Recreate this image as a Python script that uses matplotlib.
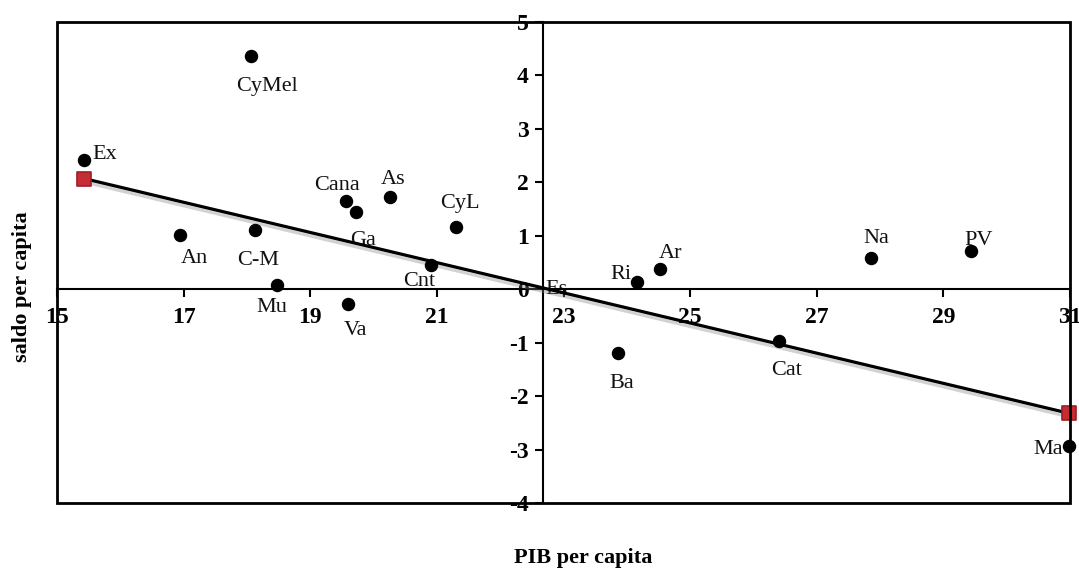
import matplotlib
matplotlib.use("Agg")
import matplotlib.pyplot as plt
import matplotlib.patheffects as pe
from matplotlib.patches import Rectangle

# ---- data ----
regions = ["CyMel", "Ex", "Cana", "Ga", "As", "CyL", "An", "C-M", "Cnt", "Mu", "Va",
           "Es", "Ri", "Ar", "Ba", "Cat", "Na", "PV", "Ma"]
pib = [18.06, 15.43, 19.56, 19.72, 20.26, 21.30, 16.95, 18.13, 20.90, 18.48, 19.60,
       22.67, 24.16, 24.53, 23.86, 26.41, 27.85, 29.43, 30.98]
saldo = [4.36, 2.42, 1.65, 1.44, 1.72, 1.16, 1.01, 1.10, 0.46, 0.07, -0.28,
         0.0, 0.14, 0.38, -1.20, -0.97, 0.58, 0.71, -2.94]
fit_x = [15.43, 30.98]
fit_y = [2.07, -2.32]
x_ticks = [15, 17, 19, 21, 23, 25, 27, 29, 31]
y_ticks = [-4, -3, -2, -1, 0, 1, 2, 3, 4, 5]
x_cross = 22.67  # value where vertical axis crosses
hidden_marker = ["Es"]  # point sitting on the axes crossing, marker not visible

# label offsets (points) and alignment
lab_pos = {
    "CyMel": (12, -22, "center", "center"),
    "Ex": (6, 4, "left", "center"),
    "Cana": (-6, 11, "center", "center"),
    "Ga": (5, -20, "center", "center"),
    "As": (2, 13, "center", "center"),
    "CyL": (3, 17, "center", "center"),
    "An": (10, -17, "center", "center"),
    "C-M": (2, -22, "center", "center"),
    "Cnt": (-8, -12, "center", "center"),
    "Mu": (-4, -16, "center", "center"),
    "Va": (5, -19, "center", "center"),
    "Es": (2, 0, "left", "center"),
    "Ri": (-4, 5, "right", "center"),
    "Ar": (7, 11, "center", "center"),
    "Ba": (3, -22, "center", "center"),
    "Cat": (5, -21, "center", "center"),
    "Na": (4, 14, "center", "center"),
    "PV": (6, 8, "center", "center"),
    "Ma": (-4, -2, "right", "center"),
}

plt.rcParams['font.family'] = ['Liberation Serif', 'DejaVu Serif']

fig = plt.figure(figsize=(10.79, 5.73), dpi=100)
ax = fig.add_axes([57/1079, 1 - 503/573, (1070-57)/1079, (503-22)/573])
ax.set_xlim(15, 31)
ax.set_ylim(-4, 5)

# spines as crossing axes
for s in ["top", "right"]:
    ax.spines[s].set_visible(False)
ax.spines["left"].set_position(("data", x_cross))
ax.spines["bottom"].set_position(("data", 0))
ax.spines["left"].set_linewidth(1.5)
ax.spines["bottom"].set_linewidth(1.5)
ax.add_patch(Rectangle((0, 0), 1, 1, transform=ax.transAxes, fill=False,
                       lw=2.0, ec="black", zorder=5, clip_on=False))

ax.set_xticks(x_ticks)
ax.set_xticklabels([str(v) for v in x_ticks])
ax.set_yticks(y_ticks)
ax.set_yticklabels([str(v) for v in y_ticks])
ax.tick_params(axis="both", direction="out", length=6, width=1.5,
               labelsize=17)
ax.tick_params(axis="x", pad=7)
ax.tick_params(axis="y", pad=4)
for lab in ax.get_xticklabels() + ax.get_yticklabels():
    lab.set_fontweight("bold")

# regression line with shadow
ax.plot(fit_x, fit_y, color="black", lw=2.3, zorder=3,
        path_effects=[pe.SimpleLineShadow(offset=(2, -3), shadow_color="gray", alpha=0.35),
                      pe.Normal()])
ax.scatter(fit_x, fit_y, marker="s", s=110, color="#c62c33", edgecolors="#9e1d24",
           linewidths=1.2, zorder=4, clip_on=False)

# points
vis_x = [x for n, x in zip(regions, pib) if n not in hidden_marker]
vis_y = [y for n, y in zip(regions, saldo) if n not in hidden_marker]
ax.scatter(vis_x, vis_y, s=75, color="black", zorder=4, clip_on=False)
for name, x, y in zip(regions, pib, saldo):
    dx, dy, ha, va = lab_pos[name]
    ax.annotate(name, (x, y), xytext=(dx, dy), textcoords="offset points",
                ha=ha, va=va, fontsize=16, color="#111111", zorder=2)

fig.text(583/1079, 1 - 558/573, "PIB per capita", ha="center", va="center",
         fontsize=16, fontweight="bold")
fig.text(22/1079, 1 - 287/573, "saldo per capita", ha="center", va="center",
         rotation=90, fontsize=16, fontweight="bold")

fig.savefig("out.png", dpi=100)
